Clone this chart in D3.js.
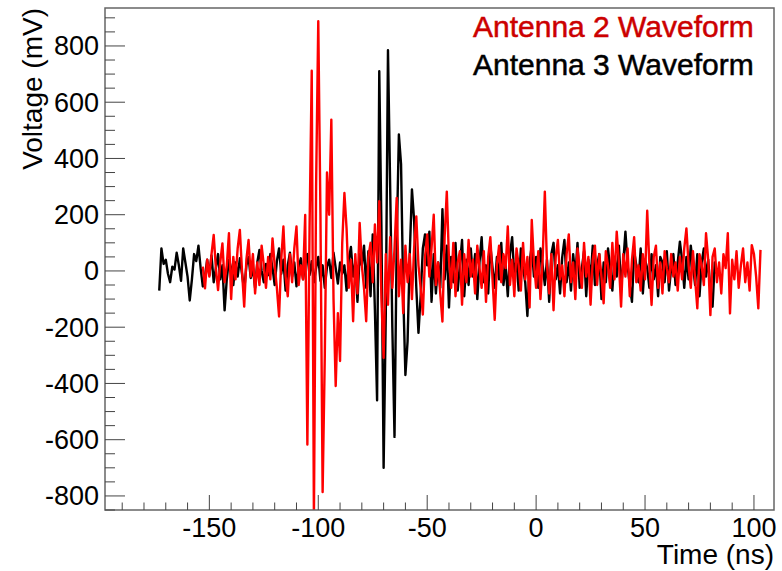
<!DOCTYPE html>
<html>
<head>
<meta charset="utf-8">
<script src="https://cdn.jsdelivr.net/npm/d3@7"></script>
<style>
  body { margin: 0; background: #fff; }
  text { font-family: "Liberation Sans", Arial, Helvetica, sans-serif; }
</style>
</head>
<body>
<script>
// waveform samples, 1 ns apart
const antenna3Start = -173;
const antenna3 = [
  -70, 80, 25, 40, -10, -40, 15, 5, 65, 20, -35, 80, 30, -20, -105, -30, 60, 35, 90, 10, -55, -20, 40,
  -15, 55, -40, 10, 60, -30, 20, -140, -30, 40, 10, -50, 30, -20, 45, -10, -70, 20, 50, -25,
  10, -60, 30, 75, 0, -40, 25, -15, 60, 10, -50, 35, 80, -10, 40, -70, 20, 65, -20, 30,
  -55, 15, 45, -30, 20, 60, -15, 35, -40, 10, 50, -35, 20, -60, 15, 40, -25, 65, 10, -45,
  30, -10, 20, -70, 40, 85, -20, 30, -110, 60, 20, 90, -60, 70, -90, 130, -140,
  -460, 710, 150, -700, -150, 785, 300, -200, -590, 100, 485, 380, -80, -370, -250, 60, 290, 180,
  -60, -220, -90, 80, 130, 20, 140, -110, 60, -80, 30, -60, 220, -30, 90, -130, 50, -40, 100,
  -70, 20, 110, -90, 40, -50, 80, -20, 60, -100, 30, 120, -40, 20, -80, 90, 10, -60, 50, -30,
  100, -50, 20, -90, 60, 120, -20, 40, -70, 80, 10, -40, -160, 30, 90, -20,
  50, -60, 80, 20, -50, 40, -110, 60, 100, -30, 20, -80, 50, 110, -40, 30, -70, 60, -20, 100,
  -60, 10, 70, -90, 40, -30, 90, -50, 20, 60, -100, 30, -40, 80, 10, -70, 50, -20, 90, -60,
  30, 140, 20, -50, -110, 70, 20, -40, 80, -80, 40, 10, -60, 60, -30, 20, -90, 50, 30, -40,
  70, -70, 10, 60, -50, 30, 104, 40, -60, 50, -30, 90, 20, -50, 60, -90, 30, 80, -20, 40,
  -70, -127, 30, -10
];

const antenna2Start = -153;
const antenna2 = [
  15, -62, 40, -20, 60, 128, 10, -68, 30, 98, -40, 20, 134, -100, 50, -30, 80, 146, 0, -127,
  40, 110, -20, 60, -80, 30, -50, 90, 20, -60, 50, -30, 116, 20, -60, -162, 40, 158, -20, -90,
  60, -40, 80, 158, -50, 20, -30,
  199, -617, 150, 712, -880, 300, 888, 200, -786, -300, 350, 200, 538, -100, -409, -150, -320,
  100, 277, 150, -60, 40, -179, 60, -80, 171, 20, -60, -179, 50, 100, -40, 165, 30, 248, -100,
  -309, 60, -120, 120, -60, 80, 260, -90, 40, -150, 90, -40, 60, -100, 80, 194, 20, -60, -155,
  50, 130, -20, 80, 200, -50, 30, -80, -180, 120, 282, 40, -60, 100, -90, 30, 70, -120, 60, -40,
  110, -20, 40, -80, 90, 10, -60, 70, -110, 50, 120, -30, -174, 20, 90, -40, 60, 10, 158, -50,
  40, -90, 80, 20, -70, 100, -30, 50, -130, 181, 30,
  -60, 70, -100, 40, 282, 20, -80, 60, -140, 50, 110, -30, 20, -90, 60, 130, -40, 30, -100, 80,
  10, -60, 100, -20, 50, -120, 40, 90, -50, 60, -20, -115, 70, 20, -60, 100, -30, 140, 30, -127,
  60, -20, 80, -90, 40, 120, -40, 20, -70, 60, -30, 214, 20, -121, 50, 90, -60, 30, -80, 70,
  10, -40, 60, -20, 30, -70, 50, -30, 80, 151, 20, -60, 70, -30, -133, 60, 20, -50, 134, 40,
  -157, 50, 80, -40, 30, -80, 60, 10, 134, -151, 40, -30, 70, -60, 20, 80, -40, 30, -70, 92,
  60, -20, -133, 75
];

const legendLabels = ["Antenna 2 Waveform", "Antenna 3 Waveform"];
const xTicks = [-150, -100, -50, 0, 50, 100];
const yTicks = [-800, -600, -400, -200, 0, 200, 400, 600, 800];

let w = 782;
let h = 571;
let padLeft = 105, padRight = 774, padTop = 8, padBottom = 510;

const svg = d3.select("body")
    .append("svg")
    .attr("width", w)
    .attr("height", h);

let xScale = d3.scaleLinear()
    .domain([-197.9, 109.2])
    .range([padLeft, padRight]);

let yScale = d3.scaleLinear()
    .domain([-850, 935])
    .range([padBottom, padTop]);

const toPoints = function (start, values) {
    return values.map(function (v, i) {
        return [start + i, v];
    });
};

const line = d3.line()
    .x(function (d) { return xScale(d[0]); })
    .y(function (d) { return yScale(d[1]); });

svg.append("clipPath")
    .attr("id", "frame")
    .append("rect")
    .attr("x", padLeft).attr("y", padTop)
    .attr("width", padRight - padLeft).attr("height", padBottom - padTop);

const plot = svg.append("g").attr("clip-path", "url(#frame)");

plot.append("path")
    .datum(toPoints(antenna3Start, antenna3))
    .attr("fill", "none")
    .attr("stroke", "#000")
    .attr("stroke-width", 2.4)
    .attr("stroke-linejoin", "round")
    .attr("d", line);

plot.append("path")
    .datum(toPoints(antenna2Start, antenna2))
    .attr("fill", "none")
    .attr("stroke", "#ff0000")
    .attr("stroke-width", 2.4)
    .attr("stroke-linejoin", "round")
    .attr("d", line);

// frame
svg.append("rect")
    .attr("x", padLeft).attr("y", padTop)
    .attr("width", padRight - padLeft).attr("height", padBottom - padTop)
    .attr("fill", "none")
    .attr("stroke", "#666")
    .attr("stroke-width", 1.5);

// x axis ticks (inside)
let xMinor = d3.range(-190, 110, 10);
svg.append("g").selectAll("line")
    .data(xMinor)
    .enter()
    .append("line")
    .attr("x1", function (d) { return xScale(d); })
    .attr("x2", function (d) { return xScale(d); })
    .attr("y1", padBottom)
    .attr("y2", function (d) { return xTicks.indexOf(d) >= 0 ? padBottom - 15 : padBottom - 7.5; })
    .attr("stroke", "#444")
    .attr("stroke-width", 1);

svg.append("g").selectAll("text")
    .data(xTicks)
    .enter()
    .append("text")
    .attr("x", function (d) { return xScale(d); })
    .attr("y", 537)
    .attr("text-anchor", "middle")
    .attr("font-size", 27)
    .text(function (d) { return d; });

// y axis ticks (inside)
let yMinor = d3.range(-850, 901, 50);
svg.append("g").selectAll("line")
    .data(yMinor)
    .enter()
    .append("line")
    .attr("x1", padLeft)
    .attr("x2", function (d) { return yTicks.indexOf(d) >= 0 ? padLeft + 20 : padLeft + 10; })
    .attr("y1", function (d) { return yScale(d); })
    .attr("y2", function (d) { return yScale(d); })
    .attr("stroke", "#444")
    .attr("stroke-width", 1);

svg.append("g").selectAll("text")
    .data(yTicks)
    .enter()
    .append("text")
    .attr("x", 99)
    .attr("y", function (d) { return yScale(d) + 9.5; })
    .attr("text-anchor", "end")
    .attr("font-size", 27)
    .text(function (d) { return d; });

// axis titles
svg.append("text")
    .attr("text-anchor", "end")
    .attr("x", padRight)
    .attr("y", 564)
    .attr("font-size", 28)
    .text("Time (ns)");

svg.append("text")
    .attr("text-anchor", "end")
    .attr("transform", "translate(42," + padTop + ")rotate(-90)")
    .attr("font-size", 28)
    .text("Voltage (mV)");

// legend
svg.append("g").selectAll("text")
    .data(legendLabels)
    .enter()
    .append("text")
    .attr("x", 473)
    .attr("y", function (d, i) { return 37 + i * 38; })
    .attr("font-size", 30)
    .attr("fill", function (d, i) { return i === 0 ? "#cc0000" : "#000"; })
    .attr("stroke", function (d, i) { return i === 0 ? "#cc0000" : "#000"; })
    .attr("stroke-width", 0.5)
    .text(function (d) { return d; });
</script>
</body>
</html>
